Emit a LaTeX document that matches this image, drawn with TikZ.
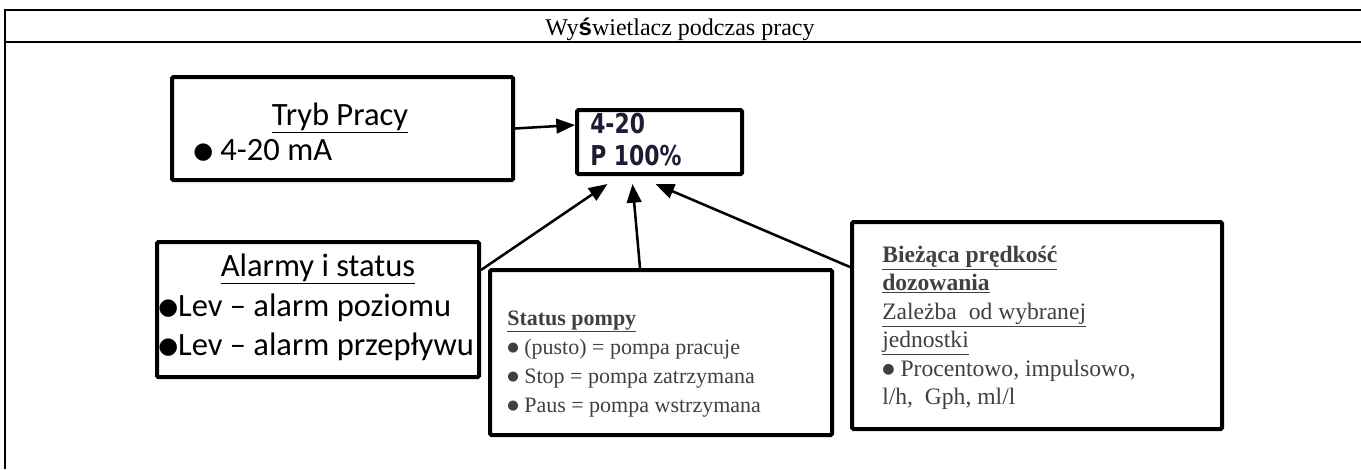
\documentclass[tikz,border=0pt]{standalone}
\usepackage{fontspec}
\usepackage{graphicx}
\setmainfont{Liberation Serif}
\newfontfamily\calfont{Carlito}
\newfontfamily\dotfont{DejaVu Sans}
\newfontfamily\lcdfont{DejaVu Sans Bold}[FakeStretch=0.8]
\newfontfamily\arialfont{Liberation Sans}
\usetikzlibrary{arrows.meta, positioning}

\newdimen\pxu \pxu=0.75pt
\definecolor{txtgrey}{RGB}{64,64,64}
\definecolor{lcdink}{RGB}{28,28,52}
\newcommand{\bigdot}{\raisebox{0.04em}{\scalebox{0.7}{\dotfont ●}}}
\newcommand{\smalldot}{\raisebox{0.1em}{\scalebox{0.6}{\dotfont ●}}}

\begin{document}
\begin{tikzpicture}[x=0.75pt, y=-0.75pt,
    frame/.style={line width=2.2pt},
    panel/.style={draw, line width=3pt, rounded corners=1pt, anchor=north west, inner sep=0pt},
    conn/.style={line width=1.9pt, -{Triangle[length=14pt, width=11pt]}},
    calline/.style={anchor=base west, inner sep=0pt, font=\calfont\fontsize{24.4}{29}\selectfont},
    stline/.style={anchor=base west, inner sep=0pt, text=txtgrey, font=\fontsize{16.5}{20}\selectfont},
    bzline/.style={anchor=base west, inner sep=0pt, text=txtgrey, font=\fontsize{17.7}{21}\selectfont},
    lcdline/.style={anchor=base west, inner sep=0pt, text=lcdink, font=\lcdfont\fontsize{20.5}{24}\selectfont}
  ]
  \useasboundingbox (0,0) rectangle (1361,469);

  % table frame and heading
  \draw[frame] (1361,10) -- (5,10) -- (5,469);
  \draw[frame] (5,42) -- (1361,42);
  \node[anchor=base, inner sep=0pt, font=\fontsize{18}{21}\selectfont] (title) at (680,35)
    {Wy{\arialfont\bfseries ś}wietlacz podczas pracy};

  % boxes
  \node[panel, minimum width=341\pxu, minimum height=103\pxu] (tryb) at (170,75) {};
  \node[panel, minimum width=165\pxu, minimum height=64\pxu] (disp) at (575,108) {};
  \node[panel, minimum width=322\pxu, minimum height=135\pxu] (alarm) at (155,240) {};
  \node[panel, minimum width=342\pxu, minimum height=165\pxu] (stat) at (488,268) {};
  \node[panel, minimum width=370\pxu, minimum height=207\pxu] (bz) at (850,220) {};

  % display
  \node[lcdline] (lcd1) at (590,133) {4-20};
  \node[lcdline] (lcd2) at (590,165) {P 100\%};

  % tryb pracy
  \node[calline, anchor=base] (trybhd) at (340,125) {\underline{Tryb Pracy}};
  \node[calline] (trybit) at (193,160) {\bigdot\ 4-20 mA};

  % alarmy
  \node[calline, anchor=base] (alhd) at (318,276) {\underline{Alarmy i status}};
  \node[calline] (al1) at (158,316) {\bigdot Lev – alarm poziomu};
  \node[calline] (al2) at (158,355) {\bigdot Lev – alarm przepływu};

  % status pompy
  \node[stline] (sthd) at (507,325) {\underline{\textbf{Status pompy}}};
  \node[stline] (st1) at (507,354) {\smalldot\ (pusto) = pompa pracuje};
  \node[stline] (st2) at (507,383) {\smalldot\ Stop = pompa zatrzymana};
  \node[stline] (st3) at (507,412) {\smalldot\ Paus = pompa wstrzymana};

  % predkosc
  \node[bzline] (bz1) at (882,262) {\underline{\textbf{Bieżąca prędkość}}};
  \node[bzline] (bz2) at (882,290) {\underline{\textbf{dozowania}}};
  \node[bzline] (bz3) at (882,319) {\underline{Zależba~ od wybranej}};
  \node[bzline] (bz4) at (882,347) {\underline{jednostki}};
  \node[bzline] (bz5) at (882,376) {\smalldot\ Procentowo, impulsowo,};
  \node[bzline] (bz6) at (882,404) {l/h,~ Gph, ml/l};

  % arrows
  \draw[conn] (tryb.east) -- ([yshift=17\pxu]disp.west);
  \draw[conn] ([yshift=-30\pxu]alarm.north east) -- ([xshift=-52\pxu,yshift=-8\pxu]disp.south);
  \draw[conn] ([xshift=-21\pxu]stat.north) -- ([xshift=-27\pxu,yshift=-8\pxu]disp.south);
  \draw[conn] ([yshift=-47\pxu]bz.north west) -- ([xshift=-4\pxu,yshift=-8\pxu]disp.south);
\end{tikzpicture}
\end{document}
